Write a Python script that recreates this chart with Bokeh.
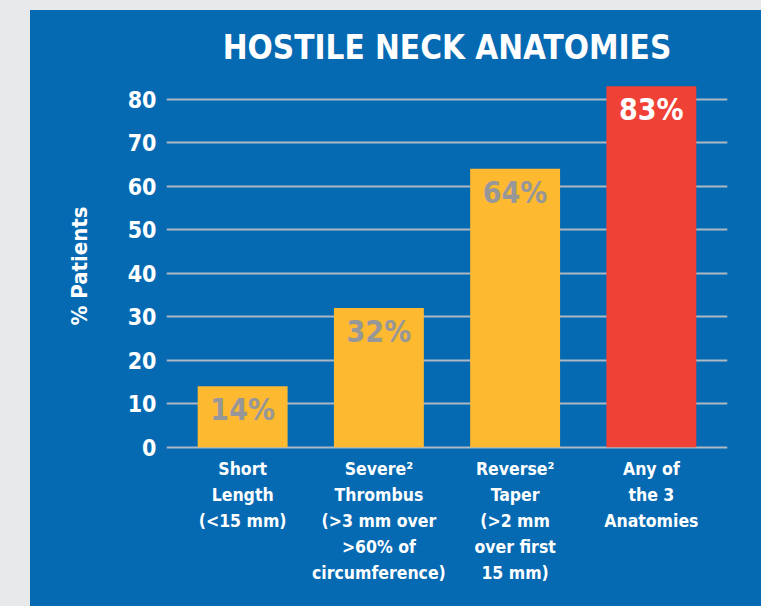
from bokeh.plotting import figure
from bokeh.models import ColumnDataSource, Range1d, FixedTicker, Label, Spacer, Title, GlobalInlineStyleSheet
from bokeh.layouts import row, column
from bokeh.core.properties import value
from bokeh.embed import file_html
from bokeh.resources import INLINE

# ---- data ----
categories = ["Short Length", "Severe Thrombus", "Reverse Taper", "Any of the 3 Anatomies"]
cat_labels = [
    "Short\nLength\n(<15 mm)",
    "Severe\u00b2\nThrombus\n(>3 mm over\n>60% of\ncircumference)",
    "Reverse\u00b2\nTaper\n(>2 mm\nover first\n15 mm)",
    "Any of\nthe 3\nAnatomies",
]
pct_patients = [14, 32, 64, 83]
y_ticks = [0, 10, 20, 30, 40, 50, 60, 70, 80]
title_text = "HOSTILE NECK ANATOMIES"
y_label = "% Patients"

# ---- styles ----
BLUE = "#066AB3"
GRAY_BG = "#E8E9EB"
ORANGE = "#FDB92F"
RED = "#EF4136"
GRID = "#AEB8C3"
PCT_GRAY = "#97979A"
FONT = "DejaVu Sans Condensed"

bar_colors = [ORANGE, ORANGE, ORANGE, RED]
pct_colors = [PCT_GRAY, PCT_GRAY, PCT_GRAY, "white"]

xs = list(range(len(categories)))
src = ColumnDataSource(dict(
    x=xs,
    cat=categories,
    label=cat_labels,
    val=pct_patients,
    pct=[f"{v}%" for v in pct_patients],
    color=bar_colors,
    pct_color=pct_colors,
    zero=[0] * len(xs),
))

p = figure(
    width=731, height=596,
    x_range=Range1d(-0.559, 3.559),
    y_range=Range1d(-36.62, 100.39),
    output_backend="svg", toolbar_location=None,
    min_border_left=136, min_border_right=34, min_border_top=0, min_border_bottom=0,
    background_fill_color=BLUE, border_fill_color=BLUE,
    outline_line_color=None,
)

p.xaxis.visible = False
p.xgrid.visible = False

yax = p.yaxis[0]
yax.ticker = FixedTicker(ticks=y_ticks)
yax.axis_line_color = None
yax.major_tick_line_color = None
yax.minor_tick_line_color = None
yax.major_tick_out = 0
yax.major_tick_in = 0
yax.major_label_standoff = 10
yax.major_label_text_color = "white"
yax.major_label_text_font = FONT
yax.major_label_text_font_size = "23px"
yax.major_label_text_font_style = "bold"

p.ygrid.ticker = FixedTicker(ticks=y_ticks)
p.ygrid.grid_line_color = GRID
p.ygrid.grid_line_width = 2

p.vbar(x="x", top="val", bottom=0, width=0.66, fill_color="color", line_color=None, source=src)

p.text(x="x", y="val", text="pct", source=src, text_align="center", text_baseline="top",
       y_offset=6, text_color="pct_color", text_font=value(FONT), text_font_size="30px",
       text_font_style="bold")

p.text(x="x", y="zero", text="label", source=src, text_align="center", text_baseline="top",
       y_offset=12, text_color="white", text_font=value(FONT), text_font_size="17.5px",
       text_font_style="bold", text_line_height=1.3)

p.add_layout(Label(x=1.5, y=91.9, text=title_text, text_align="center", text_baseline="middle",
                   text_color="white", text_font=FONT, text_font_size="33px",
                   text_font_style="bold"))

p.add_layout(Title(text=y_label, align="left", offset=281, standoff=65,
                   text_color="white", text_font=FONT, text_font_size="22px",
                   text_font_style="bold"), "left")

css = ("html { background: linear-gradient(to right, %s 30px, transparent 30px), "
       "linear-gradient(to bottom, %s 10px, %s 10px); overflow: hidden; }" % (GRAY_BG, GRAY_BG, BLUE))

layout = column(
    Spacer(width=761, height=10),
    row(Spacer(width=30, height=596), p),
    stylesheets=[GlobalInlineStyleSheet(css=css)],
)

open("out.html", "w").write(file_html(layout, INLINE))
